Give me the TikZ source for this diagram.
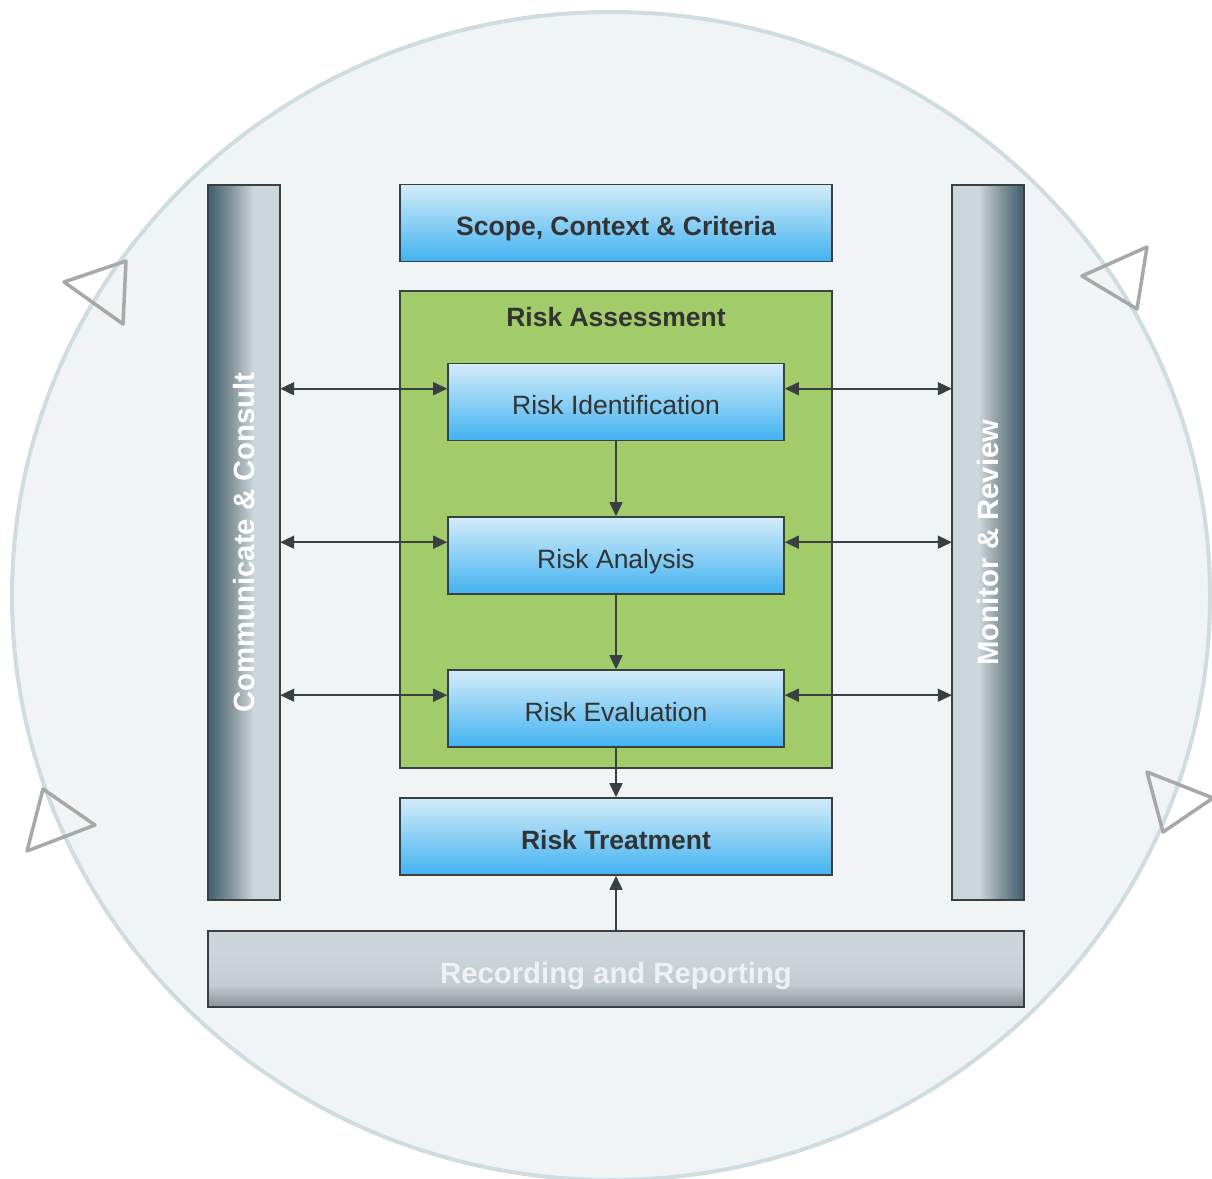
\documentclass[tikz,border=0pt]{standalone}
\usepackage{fontspec}
\setmainfont{Liberation Sans}
\usetikzlibrary{arrows.meta,calc}
\definecolor{circfill}{HTML}{F0F4F5}
\definecolor{circline}{HTML}{CFDCE0}
\definecolor{tri}{HTML}{A8A8A8}
\definecolor{edge}{HTML}{3A3F42}
\definecolor{txt}{HTML}{333333}
\definecolor{bluetop}{HTML}{D2ECF8}
\definecolor{bluebot}{HTML}{42B2F2}
\definecolor{green}{HTML}{A2CB69}
\definecolor{bardark}{HTML}{4A6674}
\definecolor{barmid}{HTML}{8C9AA1}
\definecolor{barlight}{HTML}{CCD7DC}
\definecolor{rectop}{HTML}{CBD5DA}
\definecolor{recmid}{HTML}{C3CCD1}
\definecolor{recbot}{HTML}{8A9499}
\definecolor{rectext}{HTML}{EEF2F3}
\pgfdeclareverticalshading{recshade}{100bp}{color(0bp)=(recbot); color(25bp)=(recbot); color(40bp)=(recmid); color(60bp)=(rectop); color(100bp)=(rectop)}
\pgfdeclareverticalshading{blueshade}{100bp}{color(0bp)=(bluebot); color(25bp)=(bluebot); color(75bp)=(bluetop); color(100bp)=(bluetop)}
\tikzset{
  box/.style={draw=edge, line width=1.6pt, shading=blueshade, text=txt, minimum width=336pt, minimum height=77pt, inner sep=0pt, text height=25pt, text depth=0pt, font=\fontsize{26.5}{30}\selectfont},
  widebox/.style={box, minimum width=432pt, font=\fontsize{26.5}{30}\selectfont\bfseries},
  sidebar/.style={fill=barlight, minimum width=72pt, minimum height=715pt, inner sep=0pt},
  barborder/.style={draw=edge, line width=1.6pt},
  bartext/.style={rotate=90, text=white, text height=21pt, text depth=0pt, font=\fontsize{29.3}{32}\selectfont\bfseries},
  conn/.style={draw=edge, line width=1.6pt, -{Triangle[length=14pt,width=13pt]}},
  dconn/.style={conn, {Triangle[length=14pt,width=13pt]}-{Triangle[length=14pt,width=13pt]}},
  deco/.style={draw=tri, line width=3.5pt, line join=round}
}
\begin{document}
\begin{tikzpicture}[x=1pt,y=-1pt]
\useasboundingbox (0,0) rectangle (1212,1178);
\begin{scope}
\clip (0,0) rectangle (1212,1178);
\fill[circfill] (611,596) ellipse [x radius=599, y radius=584];
\draw[circline, line width=4pt] (611,596) ellipse [x radius=599, y radius=584];
\end{scope}
% decorative triangles
\draw[deco] (64,282) -- (126,261) -- (123,324) -- cycle;
\draw[deco] (1082,276) -- (1147,247) -- (1137,309) -- cycle;
\draw[deco] (43,789) -- (95,825) -- (27,851) -- cycle;
\draw[deco] (1147,772) -- (1213,798) -- (1163,832) -- cycle;
% side bars
\node[sidebar] (cc) at (244,542.5) {};
\fill[bardark] (cc.north west) rectangle ([xshift=4.5pt]cc.south west);
\shade[left color=bardark, right color=barmid] ([xshift=4pt]cc.north west) rectangle ([xshift=26pt]cc.south west);
\shade[left color=barmid, right color=barlight] ([xshift=25.5pt]cc.north west) rectangle ([xshift=46pt]cc.south west);
\draw[barborder] (cc.north west) rectangle (cc.south east);
\node[bartext] (cct) at (cc.center) {Communicate \& Consult};
\node[sidebar] (mr) at (988,542.5) {};
\fill[bardark] ([xshift=-4.5pt]mr.north east) rectangle (mr.south east);
\shade[left color=barmid, right color=bardark] ([xshift=-26pt]mr.north east) rectangle ([xshift=-4pt]mr.south east);
\shade[left color=barlight, right color=barmid] ([xshift=-46pt]mr.north east) rectangle ([xshift=-25.5pt]mr.south east);
\draw[barborder] (mr.north west) rectangle (mr.south east);
\node[bartext] (mrt) at (mr.center) {Monitor \& Review};
% scope
\node[widebox] (scope) at (616,223) {Scope, Context \& Criteria};
% risk assessment
\node[draw=edge, line width=1.6pt, fill=green, minimum width=432pt, minimum height=477pt, inner sep=0pt] (ra) at (616,529.5) {};
\node[text=txt, text height=19pt, text depth=0pt, inner sep=0pt, font=\fontsize{26.5}{30}\selectfont\bfseries] (rat) at (616,317) {Risk Assessment};
\node[box] (rid) at (616,402) {Risk Identification};
\node[box] (ran) at (616,555.5) {Risk Analysis};
\node[box] (rev) at (616,708.5) {Risk Evaluation};
\node[widebox] (rt) at (616,836.5) {Risk Treatment};
\node[draw=edge, line width=1.6pt, shading=recshade, minimum width=816pt, minimum height=76pt, inner sep=0pt, text=rectext, text height=28pt, text depth=0pt, font=\fontsize{29.3}{32}\selectfont\bfseries] (rec) at (616,969) {Recording and Reporting};
% vertical connectors
\draw[conn] (rid.south) -- (ran.north);
\draw[conn] (ran.south) -- (rev.north);
\draw[conn] (rev.south) -- (rt.north);
\draw[conn] (rec.north) -- (rt.south);
% horizontal connectors
\foreach \b in {rid,ran,rev}{
  \coordinate (\b L) at ([yshift=-26pt]\b.north west);
  \coordinate (\b R) at ([yshift=-26pt]\b.north east);
  \draw[dconn] (\b L -| cc.east) -- (\b L);
  \draw[dconn] (\b R) -- (\b R -| mr.west);
}
\end{tikzpicture}
\end{document}
